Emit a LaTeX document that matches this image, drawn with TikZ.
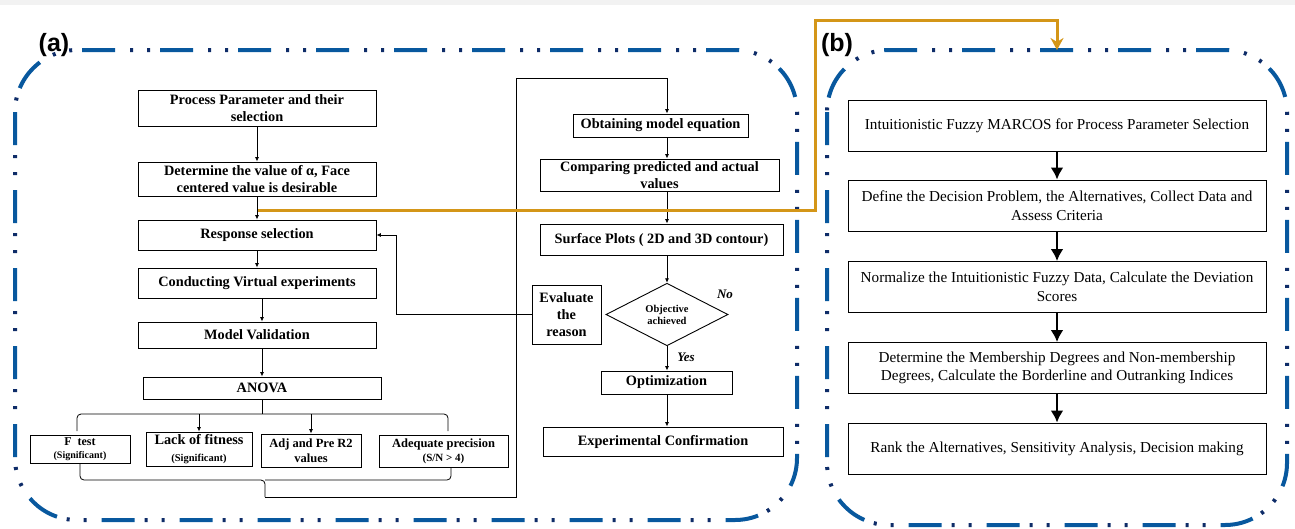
\documentclass[tikz,border=0pt]{standalone}
\usepackage{fontspec}
\setmainfont{Liberation Serif}
\newfontfamily\panelfont{Liberation Sans}
\usetikzlibrary{shapes.geometric,arrows.meta,calc}
\definecolor{dashblue}{RGB}{8,88,158}
\definecolor{dotblue}{RGB}{14,44,104}
\definecolor{linkgold}{RGB}{212,150,24}
\begin{document}
\begin{tikzpicture}[x=1pt,y=-1pt,
    box/.style={draw, line width=0.9pt, fill=white, inner sep=0pt, align=center,
      font=\fontsize{14.3}{17}\selectfont\bfseries},
    bbox/.style={draw, line width=0.9pt, fill=white, inner sep=0pt, align=center,
      minimum width=418pt, minimum height=51pt, font=\fontsize{15.2}{18.5}\selectfont},
    arr/.style={-{Latex[length=4.5pt,width=4pt]}, line width=0.8pt},
    barr/.style={-{Latex[length=12pt,width=13pt]}, line width=2.8pt},
    frameline/.style={rounded corners=62pt, line width=4pt},
    small/.style={font=\fontsize{10.5}{12}\selectfont\bfseries}]
    \useasboundingbox (0,0) rectangle (1295,528);
    \fill[black!5] (0,0) rectangle (1295,5);
    % frames of the two panels, long dashes and dots drawn apart
    \def\frameA{(15,50) rectangle (797,520)}
    \def\frameB{(827,50) rectangle (1287,525)}
    \draw[frameline, dashblue, dash pattern=on 33pt off 45pt] \frameA;
    \draw[frameline, dotblue, dash pattern=on 0pt off 43pt on 3pt off 14pt on 3pt off 15pt] \frameA;
    \draw[frameline, dashblue, dash pattern=on 33pt off 45pt] \frameB;
    \draw[frameline, dotblue, dash pattern=on 0pt off 43pt on 3pt off 14pt on 3pt off 15pt] \frameB;
    \node[font=\panelfont\bfseries\fontsize{25}{25}\selectfont] (labA) at (54,45) {(a)};
    \node[font=\panelfont\bfseries\fontsize{25}{25}\selectfont] (labB) at (837,45) {(b)};

    % (a) left column
    \node[box, minimum width=238pt, minimum height=36pt] (proc) at (257,108) {Process Parameter and their\\selection};
    \node[box, minimum width=238pt, minimum height=34pt] (alpha) at (257,179) {Determine the value of α, Face\\centered value is desirable};
    \node[box, minimum width=238pt, minimum height=30pt] (resp) at (257,235) {Response selection};
    \node[box, minimum width=238pt, minimum height=30pt] (virt) at (257,283) {Conducting Virtual experiments};
    \node[box, minimum width=238pt, minimum height=26pt] (valid) at (257,335) {Model Validation};
    \node[box, minimum width=238pt, minimum height=22pt] (anova) at (262,388) {ANOVA};
    \draw[arr] (proc) -- (alpha);
    \draw[arr] (alpha) -- (resp);
    \draw[arr] (resp) -- (virt);
    \draw[arr] (virt.south -| anova.north) -- (valid.north -| anova.north);
    \draw[arr] (valid.south -| anova.north) -- (anova);
    % ANOVA checks
    \node[box, minimum width=100pt, minimum height=28pt, font=\fontsize{12}{13}\selectfont\bfseries] (ftest) at (80,449) {F\ \ test\\{\fontsize{10}{11}\selectfont (Significant)}};
    \node[box, minimum width=106pt, minimum height=34pt] (lack) at (199,449) {Lack of fitness\\{\fontsize{10.5}{12}\selectfont (Significant)}};
    \node[box, minimum width=100pt, minimum height=33pt, font=\fontsize{12.5}{15}\selectfont\bfseries] (adj) at (311,450.5) {Adj and Pre R2\\values};
    \node[box, minimum width=129pt, minimum height=32pt, font=\fontsize{12.5}{14}\selectfont\bfseries] (adeq) at (443.5,451) {Adequate precision\\{\fontsize{11}{12}\selectfont (S/N > 4)}};
    \coordinate (upmid) at (262,414);
    \coordinate (upl) at (77,431);
    \coordinate (upr) at (448,431);
    \draw[line width=0.8pt, rounded corners=4pt] (upl) |- (upmid) -| (upr);
    \draw[line width=0.8pt] (anova) -- (upmid);
    \draw[arr] (lack.north |- upmid) -- (lack);
    \draw[arr] (adj.north |- upmid) -- (adj);
    \coordinate (lowbar) at (265,480);
    \coordinate (lowmid) at (265,497);
    \coordinate (lowr) at (451,467);
    \draw[line width=0.8pt, rounded corners=4pt] (ftest) |- (lowbar) -- (lowmid);
    \draw[line width=0.8pt, rounded corners=4pt] (lowr) |- (lowbar);
    % feed to the right column
    \coordinate (feed) at (516,78);

    % (a) right column
    \node[box, minimum width=175pt, minimum height=23pt] (obtain) at (660.5,125.5) {Obtaining model equation};
    \node[box, minimum width=239pt, minimum height=32pt] (compare) at (659.5,175) {Comparing predicted and actual\\values};
    \node[box, minimum width=243pt, minimum height=31pt] (surface) at (661.5,239.5) {Surface Plots ( 2D and 3D contour)};
    \node[draw, diamond, line width=0.9pt, fill=white, inner sep=0pt, align=center, minimum width=122pt, minimum height=59pt, small] (objective) at (667,314.5) {Objective\\achieved};
    \node[box, minimum width=69pt, minimum height=59pt] (evalr) at (566.5,314.5) {Evaluate\\the\\reason};
    \node[box, minimum width=131pt, minimum height=23pt] (optim) at (666.5,382.5) {Optimization};
    \node[box, minimum width=240pt, minimum height=29pt] (confirm) at (663,441.5) {Experimental Confirmation};
    \node[font=\fontsize{13}{13}\selectfont\bfseries\itshape] (nolab) at (725,294) {No};
    \node[font=\fontsize{13}{13}\selectfont\bfseries\itshape] (yeslab) at (686,357) {Yes};
    \draw[arr] (lowmid) -| (feed) -| (obtain.north -| objective.north);
    \draw[arr] (obtain.south -| objective.north) -- (compare.north -| objective.north);
    \draw[arr] (compare.south -| objective.north) -- (surface.north -| objective.north);
    \draw[arr] (surface.south -| objective.north) -- (objective);
    \draw[arr] (objective) -- (optim.north -| objective.south);
    \draw[arr] (optim.south -| objective.south) -- (confirm.north -| objective.south);
    % back to the response
    \coordinate (fb) at (396,235);
    \draw[arr] (evalr) -| (fb) -- (resp);

    % (b) steps
    \node[bbox] (marcos) at (1057,125.5) {Intuitionistic Fuzzy MARCOS for Process Parameter Selection};
    \node[bbox] (define) at (1057,205.5) {Define the Decision Problem, the Alternatives, Collect Data and\\Assess Criteria};
    \node[bbox] (normal) at (1057,287) {Normalize the Intuitionistic Fuzzy Data, Calculate the Deviation\\Scores};
    \node[bbox] (member) at (1057,368) {Determine the Membership Degrees and Non-membership\\Degrees, Calculate the Borderline and Outranking Indices};
    \node[bbox] (rank) at (1057,448.5) {Rank the Alternatives, Sensitivity Analysis, Decision making};
    \draw[barr] (marcos) -- (define);
    \draw[barr] (define) -- (normal);
    \draw[barr] (normal) -- (member);
    \draw[barr] (member) -- (rank);

    % link from (a) to (b)
    \coordinate (tap) at (258,210);
    \coordinate (btop) at (1057,50);
    \draw[linkgold, line width=3pt, -{Stealth[length=12pt,width=13pt]}] (tap) -| (815,20) -| (btop);
\end{tikzpicture}
\end{document}
